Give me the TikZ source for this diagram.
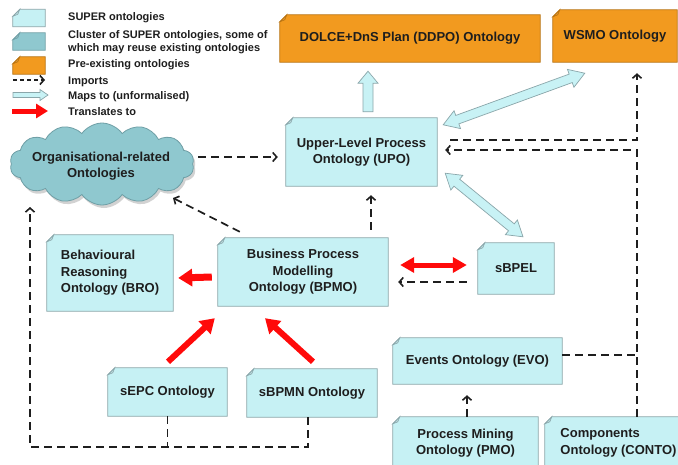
\documentclass[tikz,border=0pt]{standalone}
\usepackage{fontspec}
\setmainfont{Liberation Sans}
\usetikzlibrary{shapes.symbols,arrows.meta,calc,backgrounds,shadows}
\definecolor{supc}{HTML}{C6F1F4}
\definecolor{supd}{HTML}{8AA6AA}
\definecolor{clus}{HTML}{8FC8CF}
\definecolor{clusd}{HTML}{6F9FA6}
\definecolor{orng}{HTML}{F29A1F}
\definecolor{orngd}{HTML}{B8720F}
\definecolor{txt}{HTML}{1E1E1E}
\definecolor{redc}{HTML}{FF0A0A}
\definecolor{mapsc}{HTML}{C8F2F5}
\newcommand\foldbox[3]{%
  \filldraw[fill=#2,draw=#3,line width=0.8pt] ([yshift=-7pt]#1.north west) -- ([xshift=7pt]#1.north west) -- (#1.north east) -- (#1.south east) -- (#1.south west) -- cycle;
  \filldraw[fill=#2!80!gray,draw=#3,line width=0.6pt] ([yshift=-7pt]#1.north west) -- ([xshift=7pt]#1.north west) -- ([xshift=5pt,yshift=-5pt]#1.north west) -- cycle;
}
\newcommand\mapsone[5]{%
  \coordinate (mA) at #1; \coordinate (mB) at #2;
  \coordinate (mC) at ($(mB)!#5!(mA)$);
  \filldraw[maps] ($(mA)!#3!90:(mB)$) -- ($(mC)!#3!90:(mB)$) -- ($(mC)!#4!90:(mB)$) -- (mB) -- ($(mC)!#4!-90:(mB)$) -- ($(mC)!#3!-90:(mB)$) -- ($(mA)!#3!-90:(mB)$) -- cycle;
}
\newcommand\mapstwo[5]{%
  \coordinate (mA) at #1; \coordinate (mB) at #2;
  \coordinate (mC) at ($(mA)!#5!(mB)$);
  \coordinate (mD) at ($(mB)!#5!(mA)$);
  \filldraw[maps] (mA) -- ($(mC)!#4!90:(mB)$) -- ($(mC)!#3!90:(mB)$) -- ($(mD)!#3!90:(mB)$) -- ($(mD)!#4!90:(mB)$) -- (mB) -- ($(mD)!#4!-90:(mB)$) -- ($(mD)!#3!-90:(mB)$) -- ($(mC)!#3!-90:(mB)$) -- ($(mC)!#4!-90:(mB)$) -- cycle;
}
\begin{document}
\begin{tikzpicture}[x=1pt,y=-1pt,
  onto/.style={draw=none,inner sep=0pt,font=\bfseries\fontsize{13}{16.5}\selectfont,text=txt,align=center},
  legtext/.style={inner sep=0pt,anchor=west,font=\bfseries\fontsize{11}{13.5}\selectfont,text=txt,align=left},
  icon/.style={draw=none,inner sep=0pt,minimum width=32pt,minimum height=17pt},
  maps/.style={fill=mapsc,draw=supd,line width=0.7pt,line join=miter},
  dsh/.style={draw=txt,line width=1.7pt,dash pattern=on 8pt off 5pt},
  imp/.style={dsh,-{Straight Barb[length=4pt,width=9pt,line width=1.6pt]}},
  redarr/.style={draw=redc,line width=6pt,-{Triangle[length=14pt,width=17pt]}}]
\useasboundingbox (0,0) rectangle (678,464);

% legend
\node[icon] (lsup) at (29,18) {};
\node[icon] (lclu) at (29,41.5) {};
\node[icon] (lpre) at (29,65.5) {};
\node[legtext] (t1) at (68,18) {SUPER ontologies};
\node[legtext] (t2) at (68,42) {Cluster of SUPER ontologies, some of\\which may reuse existing ontologies};
\node[legtext] (t3) at (68,65) {Pre-existing ontologies};
\node[legtext] (t4) at (68,82) {Imports};
\node[legtext] (t5) at (68,97) {Maps to (unformalised)};
\node[legtext] (t6) at (68,112) {Translates to};
\coordinate (li1) at (13,80); \coordinate (li2) at (45,80);
\coordinate (lm1) at (13,95); \coordinate (lm2) at (48,95);
\coordinate (lr1) at (12,111); \coordinate (lr2) at (48,111);
\draw[imp,dash pattern=on 4pt off 3pt,line width=1.3pt] (li1) -- (li2);
\mapsone{(lm1)}{(lm2)}{2.5pt}{5.5pt}{8pt}
\draw[redarr,line width=5pt,-{Triangle[length=12pt,width=14pt]}] (lr1) -- (lr2);

% nodes
\node[onto,minimum width=260pt,minimum height=47pt] (ddpo) at (410,38.5) {DOLCE+DnS Plan (DDPO) Ontology};
\node[onto,minimum width=124pt,minimum height=52pt] (wsmo) at (615,36) {WSMO Ontology};
\node[onto,minimum width=151pt,minimum height=68pt] (upo) at (361.5,152) {Upper-Level Process\\Ontology (UPO)};
\node[cloud,cloud puffs=14,cloud puff arc=110,aspect=2.3,fill=clus,draw=clusd,line width=0.8pt,
      minimum width=184pt,minimum height=82pt,inner sep=0pt,
      drop shadow={shadow xshift=2pt,shadow yshift=-3pt,fill=black!35}] (org) at (102,164) {};
\node[inner sep=0pt,font=\bfseries\fontsize{13}{16}\selectfont,text=txt,align=center] (orgt) at (101,166) {Organisational-related\\Ontologies};
\node[onto,align=left,minimum width=126pt,minimum height=76pt] (bro) at (110,273) {Behavioural\\Reasoning\\Ontology (BRO)};
\node[onto,minimum width=170pt,minimum height=68pt] (bpmo) at (303,272) {Business Process\\Modelling\\Ontology (BPMO)};
\node[onto,minimum width=76pt,minimum height=51pt] (sbpel) at (516,268.5) {sBPEL};
\node[onto,minimum width=119pt,minimum height=48pt] (sepc) at (167.5,392) {sEPC Ontology};
\node[onto,minimum width=130pt,minimum height=48pt] (sbpmn) at (312,393) {sBPMN Ontology};
\node[onto,minimum width=169pt,minimum height=46pt] (evo) at (477.5,361) {Events Ontology (EVO)};
\node[onto,minimum width=145pt,minimum height=52pt] (pmo) at (465.5,443) {Process Mining\\Ontology (PMO)};
\node[onto,align=left,minimum width=147pt,minimum height=52pt] (conto) at (618.5,443) {Components\\Ontology (CONTO)};

\begin{scope}[on background layer]
  \fill[white] (0,0) rectangle (678,464);
  \foreach \n in {lsup,upo,bro,bpmo,sbpel,sepc,sbpmn,evo,pmo,conto} {\foldbox{\n}{supc}{supd}}
  \foldbox{lclu}{clus}{clusd}
  \foreach \n in {lpre,ddpo,wsmo} {\foldbox{\n}{orng}{orngd}}
\end{scope}

% maps-to arrows
\mapsone{($(upo.north)+(6.5,-6)$)}{($(upo.north |- ddpo.south)+(6.5,9)$)}{5pt}{10pt}{12pt}
\mapstwo{($(upo.north east)+(6,7)$)}{($(wsmo.south west)+(32,11)$)}{4.5pt}{9.5pt}{15pt}
\mapstwo{($(upo.south east)+(8,-13)$)}{($(sbpel.north)+(7,-6)$)}{4.5pt}{9.5pt}{15pt}

% imports
\coordinate (rv) at ([xshift=18.5pt]conto.north);
\coordinate (lc) at (30,447);
\draw[imp] ($(org.center)+(96,-7)$) -- ([xshift=-8pt,yshift=-5pt]upo.west);
\draw[imp] ([xshift=13pt,yshift=12pt]upo.east) -| ([xshift=22pt,yshift=-11pt]wsmo.south);
\draw[imp] (rv) |- ([xshift=8pt,yshift=2pt]upo.east);
\draw[dsh] ([yshift=6pt]evo.east) -- ([yshift=6pt]evo.east -| rv);
\draw[imp] ([xshift=1.5pt]pmo.north) -- ([xshift=1.5pt,yshift=-11pt]pmo.north |- evo.south);
\draw[imp] ([xshift=68pt,yshift=8pt]bpmo.north) -- ([xshift=68pt,yshift=-9pt]bpmo.north |- upo.south);
\draw[imp] ($(bpmo.north west)+(22,-6)$) -- ($(org.center)+(71,34)$);
\draw[imp] ([xshift=-11pt,yshift=-13.5pt]sbpel.west) -- ([xshift=10pt,yshift=-10pt]bpmo.east);
\draw[imp] ([xshift=-4pt]sbpmn.south) |- (lc) -- ($(org.center)+(-72,43)$);
\draw[dsh] (sepc.south) -- (sepc.south |- lc);

% translates
\draw[redarr,line width=7pt,-{Triangle[length=14pt,width=17pt]}] ([xshift=-6pt,yshift=-5pt]bpmo.west) -- ([xshift=5pt,yshift=-5pt]bro.east);
\draw[redarr,line width=5pt,{Triangle[length=14pt,width=15pt]}-{Triangle[length=14pt,width=15pt]}] ([xshift=12pt,yshift=7pt]bpmo.east) -- ([xshift=-11pt,yshift=3.5pt]sbpel.west);
\draw[redarr] ($(sepc.north)+(0.5,-6)$) -- ($(bpmo.south west)+(-3,12)$);
\draw[redarr] ($(sbpmn.north)+(1,-7)$) -- ($(bpmo.south)+(-38,12)$);
\end{tikzpicture}
\end{document}
